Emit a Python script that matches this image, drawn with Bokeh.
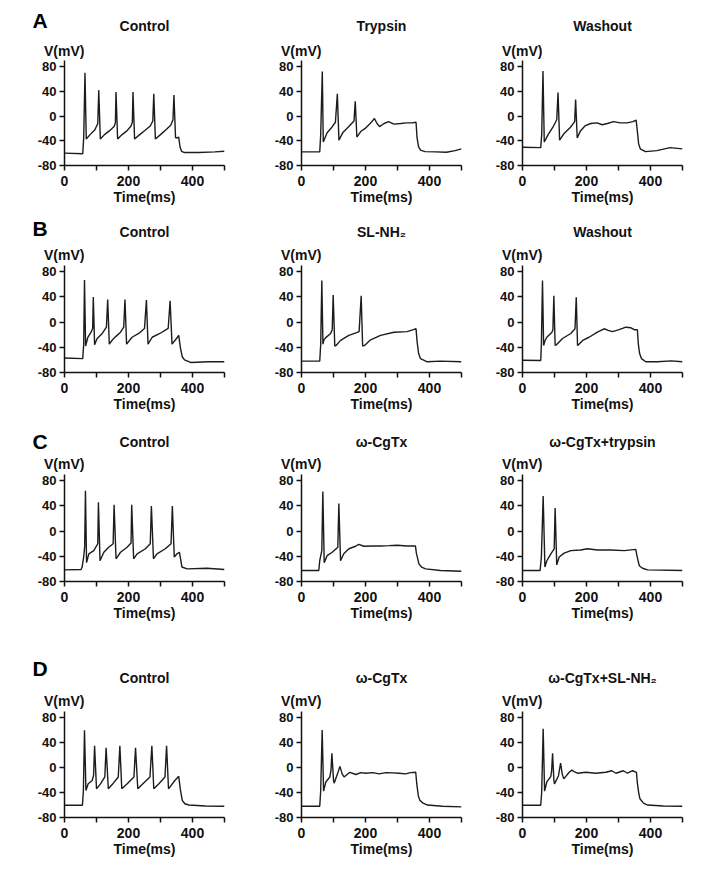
from bokeh.plotting import figure
from bokeh.layouts import column, row
from bokeh.models import Title, FixedTicker, Range1d
from bokeh.embed import file_html
from bokeh.resources import INLINE

FONT = "Liberation Sans"

# ---------------- data: (time ms, membrane potential mV) ----------------
a1_control = [(0,-60),(57,-61),(60,-35),(64,70),(68,-37),(80,-30),(95,-22),(104,-12),(107,42),(112,-37),
              (125,-30),(140,-24),(155,-17),(159,-11),(161,39),(166,-37),(180,-30),(195,-24),(208,-16),(212,-10),
              (214,39),(219,-37),(235,-30),(252,-23),(268,-16),(276,-8),(279,36),(284,-37),(300,-30),(317,-22),
              (332,-15),(339,-6),(342,34),(347,-35),(354,-35),(357,-34),(361,-50),(366,-57),(375,-59),(420,-59),
              (470,-58),(500,-57)]
a2_trypsin = [(0,-58),(57,-58),(60,-30),(65,72),(68,-42),(80,-27),(95,-18),(106,-10),(112,36),(117,-39),
              (130,-26),(148,-17),(164,-8),(168,24),(173,-34),(185,-25),(199,-20),(213,-13),(228,-4),(236,-12),
              (244,-17),(258,-12),(272,-9),(289,-13),(310,-12),(328,-11),(345,-11),(358,-10),(361,-35),(366,-50),
              (372,-55),(386,-57.5),(420,-58),(453,-58.5),(480,-56),(500,-53)]
a3_washout = [(0,-50.5),(57,-51),(60,-30),(64,73),(68,-42),(80,-30),(95,-18),(107,-6),(111,38),(116,-39),
              (130,-28),(150,-18),(163,-9),(166,27),(171,-35.5),(181,-24),(195,-16),(213,-12),(233,-11),(249,-14),
              (265,-12),(285,-9),(305,-11),(327,-11),(345,-9),(355,-6.5),(358,-20),(363,-45),(368,-53),(384,-57.5),
              (420,-56),(461,-51),(500,-53)]

b1_control = [(0,-57),(57,-58),(60,-35),(62.5,67),(66,-38),(73,-24),(83,-16),(88,-10),(90,40),(94,-36),
              (102,-26),(118,-18),(131,-8),(135,36),(140,-35),(150,-28),(160,-23),(175,-16),(185,-8),(189,36),
              (194,-35),(211,-24),(232,-18),(250,-10),(256,35),(261,-35),(274,-24),(298,-18),(324,-10),(330,34),
              (336,-35),(350,-26),(357,-21),(362,-40),(368,-55),(375,-60),(394,-64),(450,-63),(500,-63)]
b2_slnh2 = [(0,-62),(57,-62),(60,-35),(63.5,66),(67,-35),(70,-28),(75,-25),(91,-18),(96,-12),(99,43),
            (104,-38),(108,-37),(122,-29),(148,-21),(170,-17),(180,-15),(186.5,42),(191,-38),(197,-37),(216,-28),
            (247,-21),(289,-16),(330,-15),(350,-12),(358,-10.5),(361,-30),(366,-50),(372,-58),(393,-63),(434,-62),
            (500,-63)]
b3_washout = [(0,-60.5),(57,-61),(59,-35),(62.5,66),(66,-37),(70,-30),(76,-24),(92,-16),(95,-12),(98,42),
              (102,-37),(106,-36),(125,-26),(151,-18),(164,-10.5),(168,39.5),(172,-37),(175,-36),(188,-29),(208,-24),
              (234,-16),(255,-10.5),(268,-13),(281,-15),(302,-12),(323,-8),(339,-9),(349,-12),(359,-12),(362,-35),
              (366,-50),(372,-58),(385,-63),(422,-63),(464,-61.5),(500,-63)]

c1_control = [(0,-61.5),(52,-61),(55,-57),(60,-41),(63,-25),(65.5,64),(69,-50),(76,-36),(91.5,-31),(104,-20),
              (106,46),(111,-47),(123,-33.5),(138,-25.6),(152,-20),(155,42),(161,-44),(175,-33.5),(195.5,-25.6),
              (208,-19),(210,42),(216,-44),(227,-36),(253,-28),(268,-20),(271.5,40),(278,-44),(289,-36),(315,-28),
              (333,-20),(337,40),(343,-41),(351.5,-36),(359,-33.5),(363,-45),(367,-57),(383,-60),(445,-59),(500,-61)]
c2_cgtx = [(0,-62.5),(54,-62.5),(57,-47),(63.5,-31),(66.7,63),(71,-50),(80,-39),(96,-33.5),(113.5,-25.6),
           (116.7,44),(122,-47),(132,-36),(148,-28),(169,-24),(179,-21),(195,-24),(221,-23.5),(247,-23.5),
           (273,-23),(299,-22.4),(330,-23.5),(356,-23.5),(359,-35),(367,-52),(375,-57),(388,-60),(434,-62.5),
           (500,-63.6)]
c3_cgtx_trypsin = [(0,-62.5),(55,-62.5),(59,-41),(64.6,56),(70,-57),(76,-47),(88.6,-36),(99,-28),(102,36.7),
                   (107,-53.6),(114.6,-41),(130,-35),(151,-31),(182,-30),(203,-28),(234,-30),(276,-30),(318,-31),
                   (354,-29),(358,-40),(365,-55),(375,-59),(391,-61.5),(500,-62.5)]

d1_control = [(0,-60.4),(56,-60.4),(59,-38),(62.5,60),(67,-36.6),(74,-26),(86.5,-20.7),(91,-12),(94,35),(100,-34),
              (112.5,-26),(126,-15),(130,32),(137,-34),(151,-26),(168,-15),(173,35),(179,-34),(196,-26),(217,-15),
              (222,32),(229,-34),(245,-26),(267,-15),(273,35),(279,-34),(295,-26),(314,-15),(319,35),(325,-34),
              (345,-20.7),(357,-14),(362,-35),(368,-52.5),(376,-58),(389,-60),(440,-61.5),(500,-62)]
d2_cgtx = [(0,-62),(57,-62),(60,-36.6),(64.6,60.4),(69,-37.7),(76,-23),(88.6,-15),(92,-5),(95,22.8),(100,-20),
           (102,-25),(112.5,-10),(120,2),(127,-10),(133,-15),(151,-7.5),(170,-11),(185,-8),(201,-9),(222,-8),
           (243,-10),(264,-8),(284.5,-8.5),(305,-9),(326,-10),(340,-8),(357,-7.5),(360,-25),(365,-45),(370,-52.5),
           (380,-57),(394,-60),(440,-62),(500,-63)]
d3_cgtx_slnh2 = [(0,-60.4),(57,-60.4),(60,-39),(64.6,62.5),(69,-37.7),(76,-23),(88.6,-14),(91,-5),(94,23),(98,-20),
                 (100,-26),(112.5,-13),(119,7.4),(124,-10),(129,-18),(146,-7.5),(154,-4),(163,-7),(172,-9),
                 (198,-7.5),(229,-9),(260.5,-7.5),(279,-5),(292,-9),(315,-5),(328,-9),(344,-5),(356,-7.5),
                 (359,-25),(363,-40),(367,-50),(378,-57),(391,-60),(440,-61.5),(500,-62)]

panel_letters = ["A", "B", "C", "D"]
panel_titles = [["Control", "Trypsin", "Washout"],
                ["Control", "SL-NH\u2082", "Washout"],
                ["Control", "\u03c9-CgTx", "\u03c9-CgTx+trypsin"],
                ["Control", "\u03c9-CgTx", "\u03c9-CgTx+SL-NH\u2082"]]
panel_traces = [[a1_control, a2_trypsin, a3_washout],
                [b1_control, b2_slnh2, b3_washout],
                [c1_control, c2_cgtx, c3_cgtx_trypsin],
                [d1_control, d2_cgtx, d3_cgtx_slnh2]]
y_ticks = [-80, -40, 0, 40, 80]
x_major_ticks = [0, 200, 400]
x_minor_ticks = [100, 300, 500]
y_label = "V(mV)"
x_label = "Time(ms)"

# ---------------- layout geometry ----------------
# (top border, frame height, standoff of V(mV), standoff of panel title, standoff of letter)
row_geom = [(60, 105, 3.5, 8.3, -39), (55, 107, 4.5, 5.3, -41),
            (57, 107, 4.5, 3.3, -44), (85, 106, 4.5, 5.3, -29)]
col_geom = [(64, 20), (57, 20), (41, 13)]
FRAME_W = 160
BOTTOM = 45
INK = "#111111"


def make_panel(trace, title, letter, rg, cg):
    top, fh, s_v, s_t, s_l = rg
    left, right = cg
    p = figure(frame_width=FRAME_W, frame_height=fh,
               min_border_left=left, min_border_right=right,
               min_border_top=top, min_border_bottom=BOTTOM,
               x_range=Range1d(0, 500), y_range=Range1d(-80, 90),
               title_location=None,
               output_backend="svg", toolbar_location=None, tools="")
    p.xgrid.visible = False
    p.ygrid.visible = False
    p.outline_line_color = None
    p.background_fill_color = "white"
    p.border_fill_color = "white"

    ts = [a for a, b in trace]
    vs = [b for a, b in trace]
    p.line(ts, vs, line_color="#1c1c1c", line_width=1.4)

    for ax in (p.xaxis[0], p.yaxis[0]):
        ax.axis_line_color = INK
        ax.axis_line_width = 1.5
        ax.major_tick_line_color = INK
        ax.major_tick_line_width = 1.5
        ax.minor_tick_line_color = INK
        ax.minor_tick_line_width = 1.5
        ax.major_tick_in = 0
        ax.major_tick_out = 5
        ax.minor_tick_in = 0
        ax.minor_tick_out = 5
        ax.major_label_text_font = FONT
        ax.major_label_text_font_style = "bold"
        ax.major_label_text_color = INK
        ax.major_label_standoff = 3

    p.xaxis.major_label_text_font_size = "14px"
    p.yaxis.major_label_text_font_size = "13px"
    p.xaxis.major_label_standoff = 5
    p.xaxis.ticker = FixedTicker(ticks=x_major_ticks, minor_ticks=x_minor_ticks)
    p.xaxis.axis_label = x_label
    p.xaxis.axis_label_text_font = FONT
    p.xaxis.axis_label_text_font_style = "bold"
    p.xaxis.axis_label_text_font_size = "14px"
    p.xaxis.axis_label_text_color = INK
    p.xaxis.axis_label_standoff = 0

    p.yaxis.ticker = FixedTicker(ticks=y_ticks)
    p.yaxis.major_label_overrides = {t: ("-%d" % abs(t) if t < 0 else str(t)) for t in y_ticks}

    common = dict(text_font=FONT, text_font_style="bold", text_color=INK)
    p.add_layout(Title(text=y_label, align="left", offset=-20.5, standoff=s_v,
                       text_font_size="14px", **common), "above")
    p.add_layout(Title(text=title, align="center", standoff=s_t,
                       text_font_size="14px", **common), "above")
    if letter:
        p.add_layout(Title(text=letter, align="left", offset=-32, standoff=s_l,
                           text_font=FONT, text_font_style="bold", text_color="black",
                           text_font_size="21px"), "above")
    return p


rows = []
for r in range(4):
    figs = []
    for c in range(3):
        figs.append(make_panel(panel_traces[r][c], panel_titles[r][c],
                               panel_letters[r] if c == 0 else None,
                               row_geom[r], col_geom[c]))
    rows.append(row(*figs))

layout = column(*rows)
open("out.html", "w").write(file_html(layout, INLINE))
